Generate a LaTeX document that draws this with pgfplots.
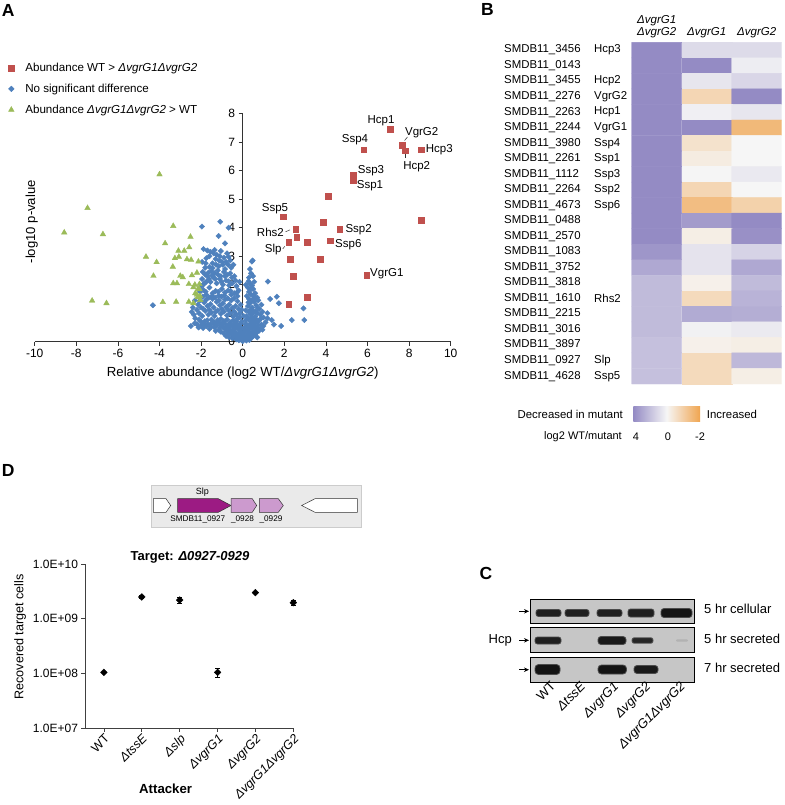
\documentclass[border=0pt]{standalone}
\usepackage{pgfplots}
\usepackage{pgfplotstable}
\pgfplotsset{compat=1.18}
\usepackage{fontspec}
\setmainfont{Liberation Sans}
\usetikzlibrary{arrows.meta}
\newcommand{\fs}[1]{\fontsize{#1}{#1}\selectfont}
\definecolor{xlred}{RGB}{192,80,77}
\definecolor{xlblue}{RGB}{79,129,189}
\definecolor{xlgreen}{RGB}{155,187,89}
\definecolor{hmpurple}{RGB}{148,139,196}
\definecolor{hmorange}{RGB}{240,165,80}
\definecolor{hmwhite}{RGB}{246,246,246}
\definecolor{slpmag}{RGB}{156,27,131}
\definecolor{lpurp}{RGB}{204,154,206}
\definecolor{blotgray}{RGB}{198,198,198}
\definecolor{genebox}{RGB}{234,234,234}

\pgfplotstableread{
x y
0 0.02
-0.05 0.05
0.05 0.08
-0.1 0.12
0.1 0.1
-0.15 0.2
0.15 0.18
-0.2 0.25
0.2 0.22
-0.25 0.1
0.25 0.12
-0.3 0.3
0.3 0.28
-0.35 0.18
0.35 0.2
-0.4 0.35
0.4 0.33
-0.45 0.22
0.45 0.15
-0.5 0.38
0.5 0.3
-0.55 0.27
0.55 0.37
-0.6 0.4
0.6 0.25
-0.08 0.3
0.08 0.35
-0.12 0.38
0.12 0.4
-0.02 0.15
0.02 0.28
-0.65 0.32
-0.72 0.22
0.68 0.33
-0.18 0.05
0.18 0.04
-0.3 0.08
0.32 0.06
-0.2 0.45
-0.35 0.5
-0.5 0.55
-0.65 0.48
-0.8 0.6
-0.95 0.52
-1.1 0.65
-1.25 0.58
-1.4 0.7
-1.55 0.62
-1.7 0.75
-0.3 0.7
-0.45 0.75
-0.6 0.68
-0.75 0.78
-0.9 0.72
-1.05 0.8
-1.2 0.76
-1.35 0.5
-1.6 0.45
-1.85 0.6
-2.0 0.7
-1.9 0.48
-2.49 0.55
-2.2 0.62
-0.15 0.6
-0.25 0.8
-0.85 0.44
-1.15 0.42
-0.4 0.62
-0.7 0.58
-1.0 0.62
-1.5 0.78
-1.75 0.55
-2.1 0.78
0.1 0.5
0.2 0.6
0.3 0.45
0.4 0.7
0.5 0.55
0.6 0.65
0.7 0.5
0.8 0.75
0.9 0.6
0.15 0.75
0.35 0.62
0.55 0.78
0.65 0.42
0.75 0.58
1.0 0.55
1.1 0.68
0.45 0.48
0.25 0.52
0.85 0.46
0.5 0.68
-0.15 0.85
-0.3 0.95
-0.45 0.88
-0.6 1.0
-0.75 0.92
-0.9 1.05
-1.05 0.98
-1.2 1.1
-1.35 0.9
-1.5 1.02
-1.65 0.95
-1.8 1.08
-1.95 0.9
-2.1 1.0
-2.28 0.82
-0.2 1.15
-0.35 1.25
-0.5 1.18
-0.65 1.3
-0.8 1.22
-0.95 1.35
-1.1 1.28
-1.25 1.4
-1.4 1.2
-1.55 1.32
-1.7 1.25
-1.85 1.38
-2.0 1.2
-2.15 1.3
-2.4 1.2
-0.25 1.42
-0.55 1.45
-0.85 1.48
-1.15 1.45
-1.45 1.5
-1.75 1.48
-2.3 1.45
-0.4 1.05
-0.7 1.12
-1.0 1.15
-1.3 1.05
-1.6 1.12
-1.9 1.15
-2.45 1.05
-0.1 1.3
-0.12 1.0
0.2 0.9
0.3 1.05
0.4 0.95
0.5 1.1
0.6 0.88
0.7 1.0
0.8 1.15
0.25 1.25
0.35 1.35
0.45 1.2
0.55 1.4
0.65 1.28
0.75 1.45
0.9 1.3
0.3 1.5
0.5 1.48
1.19 1.0
1.19 0.82
1.4 0.76
1.64 1.58
1.74 1.35
1.32 1.5
2.36 0.76
2.96 0.76
2.92 1.17
1.0 0.85
1.5 0.6
1.85 0.55
0.95 1.05
0.85 0.95
0.15 1.1
-0.25 1.6
-0.4 1.7
-0.55 1.65
-0.7 1.8
-0.85 1.72
-1.0 1.85
-1.15 1.62
-1.3 1.78
-1.45 1.7
-1.6 1.9
-1.75 1.65
-1.9 1.82
-2.05 1.75
-0.3 1.95
-0.5 2.05
-0.65 1.98
-0.8 2.15
-0.95 2.0
-1.1 2.2
-1.25 2.05
-1.4 2.25
-1.55 2.1
-1.7 2.3
-1.85 2.05
-0.4 2.3
-0.6 2.4
-0.75 2.35
-0.9 2.45
-1.05 2.3
-1.2 2.5
-1.35 2.4
-1.5 2.48
-1.65 2.42
-1.8 2.35
-1.95 2.2
-0.2 1.8
-0.15 2.1
0.2 1.6
0.3 1.75
0.4 1.65
0.5 1.85
0.6 1.7
0.25 1.9
0.35 2.05
0.45 1.97
0.55 2.1
0.3 2.25
0.4 2.4
0.5 2.3
0.35 2.55
0.44 2.81
0.48 2.85
1.21 2.11
0.7 1.55
0.15 2.0
-0.55 2.6
-0.7 2.7
-0.85 2.55
-1.0 2.8
-1.15 2.65
-1.3 2.9
-1.45 2.75
-1.6 3.0
-1.75 2.93
-1.88 3.25
-1.7 3.2
-1.55 3.15
-1.4 3.1
-1.25 3.05
-0.9 2.95
-1.1 3.0
-0.75 3.1
-0.6 2.85
-1.8 2.6
-1.95 2.8
-1.35 3.22
-1.05 3.18
-0.45 2.7
-1.96 4.04
-1.08 4.21
-1.16 3.71
-0.68 4.0
-4.32 1.28
-0.85 3.45
-0.1 0.5
-0.28 0.58
-0.42 0.42
-0.58 0.6
-0.78 0.5
-0.92 0.65
-1.08 0.5
-1.22 0.68
-1.38 0.62
-1.52 0.52
-1.68 0.62
-1.82 0.72
-1.98 0.58
-2.12 0.5
-2.3 0.65
-2.35 0.95
-2.2 1.12
-2.05 1.45
-1.92 1.58
-1.78 1.75
-1.62 1.55
-1.48 1.6
-1.32 1.55
-1.18 1.75
-1.02 1.58
-0.88 1.62
-0.72 1.52
-0.58 1.78
-0.42 1.52
-0.28 1.72
-0.35 2.15
-0.52 2.25
-0.68 2.12
-0.85 2.3
-1.02 2.1
-1.18 2.35
-1.32 2.2
-1.48 2.32
-1.62 2.2
-1.75 2.1
-1.9 2.0
-2.0 1.95
-1.92 2.45
-1.78 2.75
-1.6 2.62
-1.45 2.58
-1.28 2.7
-1.12 2.85
-0.95 2.7
-0.8 2.8
-0.68 2.98
0.05 0.45
0.12 0.62
0.28 0.8
0.42 0.85
0.62 0.8
0.72 0.72
0.88 0.82
0.38 0.55
0.58 0.52
0.78 0.38
0.95 0.42
0.22 0.38
0.48 1.0
0.62 1.05
0.38 1.12
0.72 1.18
0.28 1.38
0.42 1.45
0.6 1.55
0.38 1.85
0.52 1.62
0.28 2.12
-0.05 0.7
0.05 0.9
-0.05 1.12
-0.78 0.38
-1.05 0.35
-1.3 0.38
-0.9 0.28
-0.5 0.12
0.52 0.2
0.7 0.15
-0.65 0.15
-0.8 0.2
}\bluedata

\pgfplotstableread{
x y
-4.0 5.87
-7.46 4.69
-8.58 3.83
-6.72 3.77
-3.34 4.06
-2.51 3.68
-3.73 3.45
-4.65 2.98
-4.14 2.79
-4.29 2.31
-3.84 1.39
-3.2 1.4
-7.24 1.44
-6.55 1.35
-3.09 3.19
-2.81 3.19
-2.57 3.31
-3.07 2.98
-3.26 2.93
-2.68 2.89
-2.48 2.87
-2.13 2.81
-3.36 2.63
-3.0 2.31
-2.88 2.26
-2.44 2.33
-2.2 2.42
-3.34 2.05
-3.16 2.05
-2.59 2.02
-2.37 1.91
-2.08 2.02
-2.28 1.7
-2.17 1.56
-2.59 1.4
-2.37 1.35
-2.04 1.46
-2.08 1.84
-2.3 2.0
-2.2 1.65
-2.05 1.6
-2.15 1.85
}\greendata

\pgfplotstableread{
x y
7.1 7.45
7.68 6.9
7.8 6.7
8.57 6.74
5.81 6.74
5.3 5.86
5.3 5.65
4.1 5.11
1.96 4.38
8.57 4.26
3.87 4.19
2.54 3.94
4.67 3.94
2.6 3.67
2.22 3.49
3.09 3.49
4.21 3.54
2.28 2.89
3.73 2.89
2.44 2.29
5.97 2.33
3.09 1.56
2.22 1.31
}\reddata

\pgfplotstableread{
x y v
0 0 4
1 0 1.0
2 0 1.0
0 1 4
1 1 4
2 1 0.35
0 2 4
1 2 0.6
2 2 1.2
0 3 4
1 3 -0.8
2 3 4
0 4 4
1 4 0.25
2 4 0.6
0 5 4
1 5 4
2 5 -1.5
0 6 4
1 6 -0.5
2 6 0.0
0 7 4
1 7 -0.25
2 7 0.0
0 8 4
1 8 0.05
2 8 0.5
0 9 4
1 9 -0.8
2 9 0.0
0 10 4
1 10 -1.4
2 10 -0.9
0 11 4
1 11 3.4
2 11 4
0 12 4
1 12 -0.2
2 12 3.8
0 13 3.6
1 13 0.7
2 13 1.3
0 14 2.9
1 14 0.7
2 14 2.9
0 15 2.2
1 15 -0.15
2 15 2.2
0 16 2.2
1 16 -0.7
2 16 2.5
0 17 2.2
1 17 2.8
2 17 2.7
0 18 2.2
1 18 0.2
2 18 0.45
0 19 2.0
1 19 -0.15
2 19 -0.2
0 20 2.0
1 20 -0.7
2 20 2.3
0 21 2.0
1 21 -0.7
2 21 -0.2
}\heatdata

\pgfplotstableread{
x y e
1 1.05e8 0.05e8
2 2.5e9 0.15e9
3 2.2e9 0.25e9
4 1.05e8 0.18e8
5 3.0e9 0.1e9
6 1.97e9 0.17e9
}\ddata

\begin{document}
\begin{tikzpicture}
\useasboundingbox (0pt,0pt) rectangle (784pt,-805pt);

% ---------------- Panel A ----------------
\begin{axis}[
  at={(34.7pt,-341.7pt)}, anchor=south west,
  scale only axis, width=416pt, height=228pt,
  xmin=-10, xmax=10, ymin=0, ymax=8,
  axis x line*=bottom, axis y line*=middle,
  hide obscured x ticks=false, hide obscured y ticks=false,
  xtick={-10,-8,...,10}, ytick={0,1,...,8},
  tick align=outside, major tick length=4pt,
  axis line style={black!80, line width=0.7pt},
  tick style={black!80, line width=0.7pt},
  ticklabel style={font=\fs{12}},
  /pgf/number format/assume math mode=true,
  xlabel={Relative abundance (log2 WT/\textit{ΔvgrG1ΔvgrG2})},
  every axis x label/.style={at={(axis description cs:0.5,-0.136)}, anchor=center, font=\fs{13.2}},
  ylabel={-log10 p-value},
  every axis y label/.style={at={(axis description cs:-0.0072,0.526)}, rotate=90, anchor=center, font=\fs{13.1}},
  legend style={at={(axis description cs:-0.0735,1.232)}, anchor=north west, draw=none, fill=none,
    inner sep=0pt, font=\fs{11.6}, row sep=7pt, cells={anchor=west}},
  legend image code/.code={\path[draw=none, fill=none] (0pt,0pt) -- (19pt,0pt); \draw[#1] plot coordinates {(7pt,0pt)};},
  clip=false,
]
\addlegendimage{only marks, mark=square*, mark size=2.8pt, color=xlred}
\addlegendentry{Abundance WT > \textit{ΔvgrG1ΔvgrG2}}
\addlegendimage{only marks, mark=square*, mark size=2.0pt, mark options={rotate=45}, color=xlblue}
\addlegendentry{No significant difference}
\addlegendimage{only marks, mark=triangle*, mark size=3.2pt, color=xlgreen}
\addlegendentry{Abundance \textit{ΔvgrG1ΔvgrG2} > WT}
\addplot[forget plot, only marks, mark=square*, mark size=1.9pt, mark options={rotate=45}, color=xlblue] table[x=x,y=y] {\bluedata};
\addplot[forget plot, only marks, mark=triangle*, mark size=3.2pt, color=xlgreen] table[x=x,y=y] {\greendata};
\addplot[forget plot, only marks, mark=square*, mark size=2.8pt, color=xlred] table[x=x,y=y] {\reddata};
\end{axis}

\begin{scope}[x=1pt,y=-1pt, every node/.style={inner sep=0pt, font=\fs{11.5}}]
\node[font=\bfseries\fs{17.5}] at (8.3,10.3) {A};
\node at (381,120.7) {Hcp1};
\node at (421.7,132.7) {VgrG2};
\node[anchor=west] at (425.7,149.7) {Hcp3};
\node at (416.7,166.7) {Hcp2};
\node at (355,140) {Ssp4};
\node[anchor=west] at (357.7,171) {Ssp3};
\node[anchor=west] at (356.7,186) {Ssp1};
\node at (275,209) {Ssp5};
\node[anchor=east] at (284,232) {Rhs2};
\node[anchor=east] at (281.7,250) {Slp};
\node[anchor=west] at (345.3,229.3) {Ssp2};
\node[anchor=west] at (335,245) {Ssp6};
\node[anchor=west] at (370,273.3) {VgrG1};
\draw[black!80, line width=0.5pt] (404.5,140.5) -- (407.5,137);
\draw[black!80, line width=0.5pt] (405.7,154) -- (405.7,158.5);
\draw[black!80, line width=0.5pt] (285.5,231.8) -- (290,229.8);
\draw[black!80, line width=0.5pt] (282.8,248.8) -- (284.8,246.3);
\end{scope}

% ---------------- Panel B ----------------
\begin{axis}[
  at={(631.7pt,-42.3pt)}, anchor=north west,
  scale only axis, width=150pt, height=341.7pt,
  xmin=-0.5, xmax=2.5, ymin=-0.5, ymax=21.5, y dir=reverse,
  enlargelimits=false, hide axis,
  colormap={hm}{rgb255(0cm)=(240,165,80); rgb255(2cm)=(246,246,246); rgb255(6cm)=(148,139,196)},
  point meta min=-2, point meta max=4,
]
\addplot[matrix plot*, mesh/cols=3, point meta=explicit, draw=none] table[x=x,y=y,meta=v] {\heatdata};
\end{axis}

\begin{scope}[x=1pt,y=-1pt, every node/.style={inner sep=0pt, font=\fs{11.4}}]
\node[font=\bfseries\fs{17.5}] at (487.5,9.2) {B};
\node[font=\itshape\fs{11.5}] at (656.7,20.5) {ΔvgrG1};
\node[font=\itshape\fs{11.5}] at (656.7,32.7) {ΔvgrG2};
\node[font=\itshape\fs{11.5}] at (706.7,32.7) {ΔvgrG1};
\node[font=\itshape\fs{11.5}] at (756.7,32.7) {ΔvgrG2};
\foreach \id/\nm [count=\i from 0] in {3456/Hcp3, 0143/, 3455/Hcp2, 2276/VgrG2, 2263/Hcp1, 2244/VgrG1, 3980/Ssp4, 2261/Ssp1, 1112/Ssp3, 2264/Ssp2, 4673/Ssp6, 0488/, 2570/, 1083/, 3752/, 3818/, 1610/Rhs2, 2215/, 3016/, 3897/, 0927/Slp, 4628/Ssp5}{
  \node[anchor=west] at (504,{50.07+15.53*\i}) {SMDB11\_\id};
  \node[anchor=west] at (594,{50.07+15.53*\i}) {\nm};
}
\shade[left color=hmpurple, right color=hmorange, middle color=hmwhite] (633.3,406) rectangle (700,421);
\node[anchor=east] at (623,414) {Decreased in mutant};
\node[anchor=west] at (706.7,414) {Increased};
\node[anchor=east, font=\fs{11}] at (622,437) {log2 WT/mutant};
\node[font=\fs{11}] at (636,437) {4};
\node[font=\fs{11}] at (668,437) {0};
\node[font=\fs{11}] at (700,437) {-2};
\end{scope}

% ---------------- Panel D ----------------
\begin{scope}[x=1pt,y=-1pt, every node/.style={inner sep=0pt}]
\node[font=\bfseries\fs{17.5}] at (8.3,470) {D};
\filldraw[fill=genebox, draw=black!20] (151,485) rectangle (360.7,526.7);
\filldraw[fill=white, draw=black!80, line width=0.5pt] (153.3,498.7) -- (166,498.7) -- (170.7,505.5) -- (166,512.3) -- (153.3,512.3) -- cycle;
\filldraw[fill=slpmag, draw=black!80, line width=0.5pt] (177.7,498.7) -- (218.3,498.7) -- (231,505.5) -- (218.3,512.3) -- (177.7,512.3) -- cycle;
\filldraw[fill=lpurp, draw=black!80, line width=0.5pt] (231,498.7) -- (252.3,498.7) -- (256.7,505.5) -- (252.3,512.3) -- (231,512.3) -- cycle;
\filldraw[fill=lpurp, draw=black!80, line width=0.5pt] (259.3,498.7) -- (278.3,498.7) -- (283.3,505.5) -- (278.3,512.3) -- (259.3,512.3) -- cycle;
\filldraw[fill=white, draw=black!80, line width=0.5pt] (357.3,498.7) -- (315,498.7) -- (301.7,505.5) -- (315,512.3) -- (357.3,512.3) -- cycle;
\node[font=\fs{9}] at (202.3,491.7) {Slp};
\node[font=\fs{8.2}] at (197.8,519.3) {SMDB11\_0927};
\node[font=\fs{8.2}] at (242.5,519.3) {\_0928};
\node[font=\fs{8.2}] at (271,519.3) {\_0929};
\node[font=\bfseries\fs{13}] at (190,557.7) {Target: \textit{Δ0927-0929}};
\end{scope}

\begin{axis}[
  at={(85pt,-728.3pt)}, anchor=south west,
  scale only axis, width=208.3pt, height=164.3pt,
  ymode=log, ymin=1e7, ymax=1e10, xmin=0.5, xmax=6,
  axis x line*=bottom, axis y line*=left,
  axis line style={black!75, line width=0.8pt},
  tick style={black!75, line width=0.8pt},
  tick align=outside, major tick length=3.5pt,
  ytick={1e7,1e8,1e9,1e10}, yticklabels={1.0E+07,1.0E+08,1.0E+09,1.0E+10},
  yminorticks=false,
  yticklabel style={font=\fs{12}},
  xtick={1,2,3,4,5,6},
  xticklabels={WT,\textit{ΔtssE},\textit{Δslp},\textit{ΔvgrG1},\textit{ΔvgrG2},\textit{ΔvgrG1ΔvgrG2}},
  xticklabel style={rotate=45, anchor=north east, font=\fs{12.5}, inner sep=1pt},
  ylabel={Recovered target cells},
  every axis y label/.style={at={(axis description cs:-0.312,0.557)}, rotate=90, anchor=center, font=\fs{12.6}},
  xlabel={Attacker},
  every axis x label/.style={at={(axis description cs:0.387,-0.369)}, anchor=center, font=\bfseries\fs{13.2}},
  clip=false,
]
\addplot[only marks, black, mark=square*, mark size=2.4pt, mark options={rotate=45, fill=black},
  error bars/.cd, y dir=both, y explicit, error bar style={line width=0.8pt}]
  table[x=x, y=y, y error=e] {\ddata};
\end{axis}

% ---------------- Panel C ----------------
\begin{axis}[
  at={(530pt,-599pt)}, anchor=north west,
  scale only axis, width=164pt, height=24.5pt,
  xmin=530, xmax=694, ymin=599, ymax=623.5, y dir=reverse,
  xtick=\empty, ytick=\empty,
  axis background/.style={fill=blotgray},
  axis line style={black, line width=1pt},
]
\addplot[fill=black!88, draw=black!70, line width=0.8pt, rounded corners=2.5pt] coordinates {(536,609.5) (561,609.5) (561,616.5) (536,616.5)} -- cycle;
\addplot[fill=black!88, draw=black!70, line width=0.8pt, rounded corners=2.5pt] coordinates {(565,609.5) (589,609.5) (589,616.5) (565,616.5)} -- cycle;
\addplot[fill=black!88, draw=black!70, line width=0.8pt, rounded corners=2.5pt] coordinates {(597,609.5) (622,609.5) (622,616.5) (597,616.5)} -- cycle;
\addplot[fill=black!88, draw=black!70, line width=0.8pt, rounded corners=2.5pt] coordinates {(628,609) (654,609) (654,617) (628,617)} -- cycle;
\addplot[fill=black!92, draw=black!70, line width=0.8pt, rounded corners=3pt] coordinates {(661,608.5) (692,608.5) (692,617.5) (661,617.5)} -- cycle;
\end{axis}

\begin{axis}[
  at={(530pt,-627.5pt)}, anchor=north west,
  scale only axis, width=164pt, height=25pt,
  xmin=530, xmax=694, ymin=627.5, ymax=652.5, y dir=reverse,
  xtick=\empty, ytick=\empty,
  axis background/.style={fill=blotgray},
  axis line style={black, line width=1pt},
]
\addplot[fill=black!88, draw=black!70, line width=0.8pt, rounded corners=2.5pt] coordinates {(535,637) (561,637) (561,644) (535,644)} -- cycle;
\addplot[fill=black!90, draw=black!70, line width=0.8pt, rounded corners=3pt] coordinates {(598,636.5) (626,636.5) (626,644.5) (598,644.5)} -- cycle;
\addplot[fill=black!85, draw=black!65, line width=0.8pt, rounded corners=2pt] coordinates {(632,637.8) (653,637.8) (653,643.2) (632,643.2)} -- cycle;
\addplot[fill=black!30, draw=none, rounded corners=1pt] coordinates {(676,639.3) (688,639.3) (688,641.7) (676,641.7)} -- cycle;
\end{axis}

\begin{axis}[
  at={(530pt,-657pt)}, anchor=north west,
  scale only axis, width=164pt, height=25pt,
  xmin=530, xmax=694, ymin=657, ymax=682, y dir=reverse,
  ytick=\empty,
  xtick={547,577,610,642,676.5},
  xticklabels={WT,\textit{ΔtssE},\textit{ΔvgrG1},\textit{ΔvgrG2},\textit{ΔvgrG1ΔvgrG2}},
  major tick length=0pt,
  xticklabel style={rotate=45, anchor=north east, font=\fs{13}, inner sep=1pt, xshift=4pt},
  axis background/.style={fill=blotgray},
  axis line style={black, line width=1pt},
]
\addplot[fill=black!92, draw=black!70, line width=0.8pt, rounded corners=3.5pt] coordinates {(535,664.5) (560,664.5) (560,674.5) (535,674.5)} -- cycle;
\addplot[fill=black!92, draw=black!70, line width=0.8pt, rounded corners=3.5pt] coordinates {(598,665) (626.5,665) (626.5,674) (598,674)} -- cycle;
\addplot[fill=black!90, draw=black!70, line width=0.8pt, rounded corners=3pt] coordinates {(634,665.5) (658,665.5) (658,673.5) (634,673.5)} -- cycle;
\end{axis}

\begin{scope}[x=1pt,y=-1pt, every node/.style={inner sep=0pt, font=\fs{13}}]
\node[font=\bfseries\fs{17.5}] at (486,573) {C};
\draw[-{Stealth[length=5pt,width=4.5pt]}, line width=0.8pt] (519,611.3) -- (529,611.3);
\draw[-{Stealth[length=5pt,width=4.5pt]}, line width=0.8pt] (519,640.3) -- (529,640.3);
\draw[-{Stealth[length=5pt,width=4.5pt]}, line width=0.8pt] (519,669.7) -- (529,669.7);
\node[anchor=east] at (512,640.3) {Hcp};
\node[anchor=west] at (704,609.3) {5 hr cellular};
\node[anchor=west] at (704,639) {5 hr secreted};
\node[anchor=west] at (704,668.3) {7 hr secreted};
\end{scope}
\end{tikzpicture}
\end{document}
